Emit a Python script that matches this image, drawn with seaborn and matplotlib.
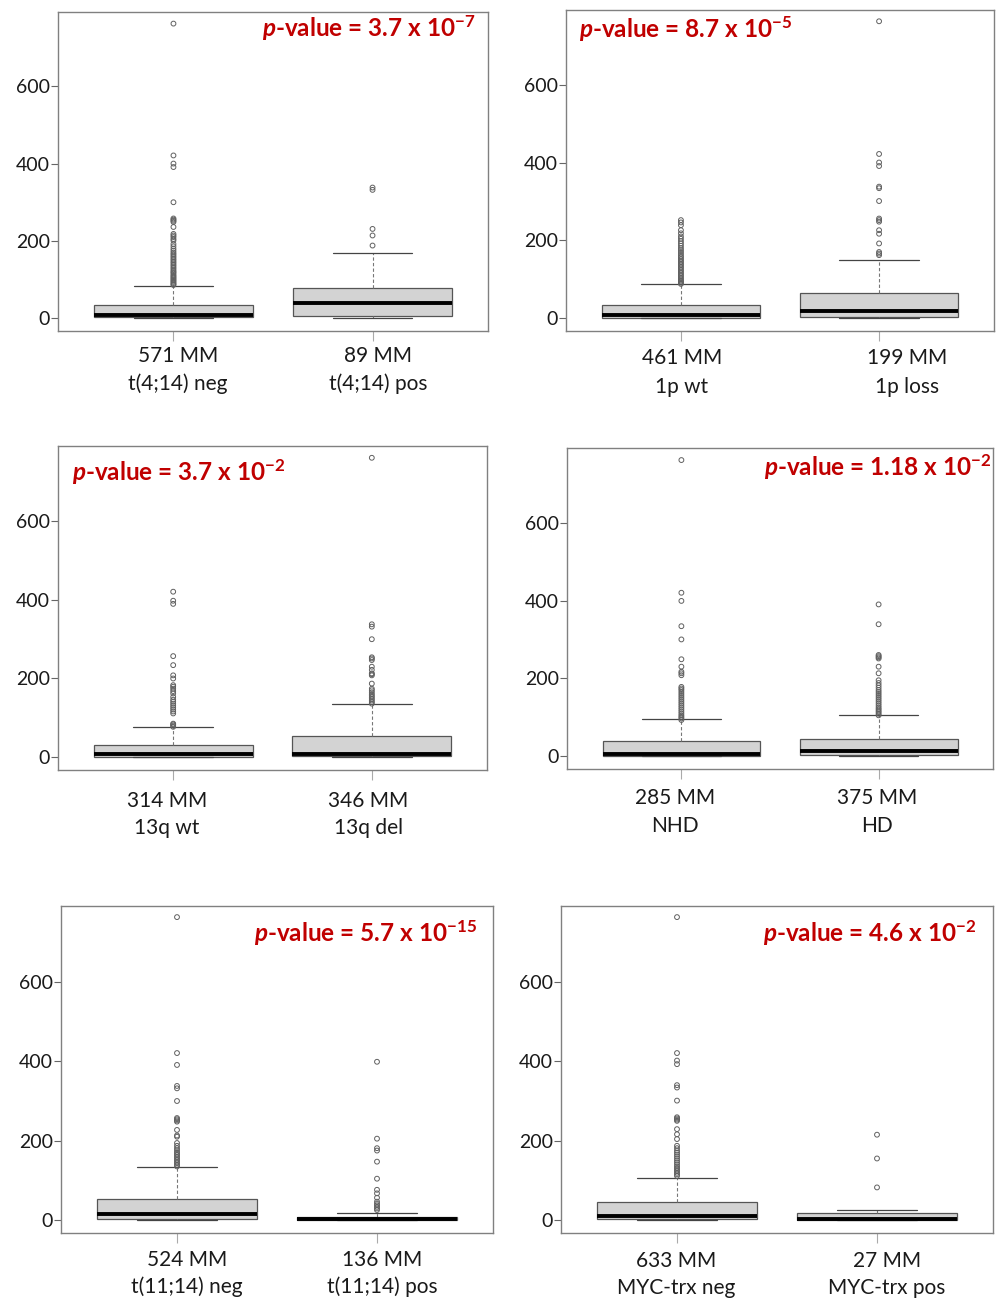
import matplotlib
matplotlib.use("Agg")
import matplotlib.pyplot as plt
import pandas as pd
import seaborn as sns

# ---- data ----
COUNTS = [[571, 89], [461, 199], [314, 346], [285, 375], [524, 136], [633, 27]]
GROUPS = [["t(4;14) neg", "t(4;14) pos"], ["1p wt", "1p loss"], ["13q wt", "13q del"],
          ["NHD", "HD"], ["t(11;14) neg", "t(11;14) pos"], ["MYC-trx neg", "MYC-trx pos"]]
P_MANT = ["3.7", "8.7", "3.7", "1.18", "5.7", "4.6"]
P_EXP = ["-7", "-5", "-2", "-2", "-15", "-2"]

Q1 = [[2.6, 6], [0, 2.6], [0, 1.7], [0, 1.7], [3.4, 0], [1.7, 0]]
MED = [[8.6, 40.6], [7, 18], [8.5, 8.5], [5, 12], [14, 1.7], [10, 1.7]]
Q3 = [[34.5, 78.6], [35, 65], [31.5, 53.6], [39.4, 43], [54, 8.4], [45.5, 17]]
WHI_LO = [[0, 0], [0, 0], [0, 0], [0, 0], [0, 0], [0, 0]]
WHI_HI = [[84.6, 169], [87, 150], [76.6, 134.5], [96, 104.6], [133, 18.5], [105, 25]]

FLIERS = [
    [[86, 88, 91, 94, 97, 100, 103, 106, 109, 112, 116, 119, 122, 126, 130, 134, 138, 142,
      146, 150, 154, 158, 162, 166, 170, 175, 180, 186, 192, 201, 205, 210, 214, 218, 236,
      249, 252, 255, 258, 300, 391, 400, 421, 762],
     [188, 214, 231, 332, 338]],
    [[88, 91, 94, 97, 100, 104, 108, 112, 116, 120, 124, 128, 132, 136, 140, 144, 148, 152,
      156, 160, 165, 170, 175, 180, 186, 192, 198, 204, 210, 218, 226, 239, 246, 252],
     [162, 166, 170, 192, 217, 226, 248, 252, 256, 301, 334, 338, 391, 400, 422, 763]],
    [[77, 80, 83, 85, 111, 116, 121, 126, 131, 136, 141, 146, 153, 162, 168, 174, 179, 183,
      200, 208, 234, 257, 390, 398, 421],
     [136, 140, 144, 148, 152, 156, 160, 165, 170, 174, 187, 208, 211, 213, 222, 230, 247,
      251, 254, 300, 332, 338, 762]],
    [[93, 97, 101, 105, 110, 115, 120, 125, 130, 135, 140, 145, 150, 155, 160, 165, 170, 174,
      178, 208, 213, 217, 230, 249, 300, 334, 399, 420, 761],
     [105, 109, 113, 117, 121, 125, 130, 135, 140, 145, 150, 155, 160, 165, 170, 176, 182,
      188, 195, 213, 230, 251, 254, 257, 260, 339, 390]],
    [[135, 139, 143, 147, 151, 155, 159, 163, 167, 171, 176, 181, 187, 194, 210, 213, 227,
      248, 251, 254, 257, 300, 332, 338, 391, 421, 764],
     [25, 29, 33, 37, 41, 46, 56, 67, 76, 104, 147, 175, 181, 205, 399]],
    [[111, 115, 119, 123, 127, 131, 135, 140, 145, 150, 155, 160, 165, 170, 175, 181, 187,
      204, 216, 229, 250, 253, 256, 259, 301, 334, 340, 393, 402, 421, 764],
     [82, 155, 215]],
]

# ---- layout (pixels in a 1001 x 1299 canvas) ----
W, H = 1001, 1299
AX_PX = [(58, 12, 488, 331), (566, 10, 994, 331), (58, 446, 487, 770),
         (567, 448, 993, 769), (61, 906, 493, 1233), (561, 906, 993, 1233)]
# p-value anchor: (x in axes frac, y in axes frac, ha)
P_POS = [(0.97, 0.95, "right"), (0.03, 0.94, "left"), (0.033, 0.92, "left"),
         (0.997, 0.94, "right"), (0.963, 0.917, "right"), (0.962, 0.917, "right")]
# x-label centres in axes frac, and the two line offsets below the axes (px)
LBL_X = [(0.279, 0.744), (0.271, 0.797), (0.254, 0.723), (0.254, 0.728), (0.291, 0.743), (0.266, 0.755)]
LBL_DY = [(25, 53), (27, 56), (31, 58), (29, 57), (27, 54), (28, 55)]

sns.set_style("white")
plt.rcParams["font.family"] = ["Lato", "DejaVu Sans"]
plt.rcParams["mathtext.fontset"] = "custom"
plt.rcParams["mathtext.rm"] = "Lato:bold"
plt.rcParams["mathtext.it"] = "Lato:bold:italic"
plt.rcParams["mathtext.bf"] = "Lato:bold"

fig = plt.figure(figsize=(W / 100, H / 100), dpi=100)

for i, (x0, y0, x1, y1) in enumerate(AX_PX):
    ax = fig.add_axes([x0 / W, 1 - y1 / H, (x1 - x0) / W, (y1 - y0) / H])
    stats = [dict(med=MED[i][j], q1=Q1[i][j], q3=Q3[i][j],
                  whislo=WHI_LO[i][j], whishi=WHI_HI[i][j], fliers=[]) for j in range(2)]
    ax.bxp(stats, positions=[1, 2], widths=0.8, capwidths=0.4, patch_artist=True,
           showfliers=False,
           boxprops=dict(facecolor="#D3D3D3", edgecolor="#555555", linewidth=0.9),
           medianprops=dict(color="black", linewidth=2.8, solid_capstyle="butt"),
           whiskerprops=dict(color="#777777", linestyle=(0, (3, 2)), linewidth=0.8),
           capprops=dict(color="#444444", linewidth=0.9))

    df = pd.DataFrame({
        "pos": [1] * len(FLIERS[i][0]) + [2] * len(FLIERS[i][1]),
        "val": FLIERS[i][0] + FLIERS[i][1],
    })
    sns.scatterplot(data=df, x="pos", y="val", ax=ax, marker="o", s=12,
                    facecolor="none", edgecolor="#606060", linewidth=0.7, zorder=3)

    ax.set_xlim(0.42, 2.58)
    ax.set_ylim(-33, 792)
    ax.set_yticks([0, 200, 400, 600])
    ax.set_xticks([1, 2])
    ax.set_xticklabels([])
    ax.set_xlabel("")
    ax.set_ylabel("")
    ax.tick_params(axis="y", left=True, length=5, width=0.8, color="#666666",
                   labelsize=14, pad=1, labelcolor="#1a1a1a")
    ax.tick_params(axis="x", bottom=True, length=7, width=0.8, color="#aaaaaa")
    for sp in ax.spines.values():
        sp.set_color("#808080")
        sp.set_linewidth(1.0)

    px, py, ha = P_POS[i]
    ax.text(px, py, r"$\mathit{p}$-value = " + P_MANT[i] + r" x 10$^{\mathrm{" + P_EXP[i] + "}}$",
            transform=ax.transAxes, ha=ha, va="center", color="#C00000",
            fontsize=17.5, fontweight="bold")

    for j in range(2):
        fx = (x0 + LBL_X[i][j] * (x1 - x0)) / W
        fig.text(fx, 1 - (y1 + LBL_DY[i][0]) / H, f"{COUNTS[i][j]} MM",
                 ha="center", va="center", fontsize=15, color="#1a1a1a")
        fig.text(fx, 1 - (y1 + LBL_DY[i][1]) / H, GROUPS[i][j],
                 ha="center", va="center", fontsize=15, color="#1a1a1a")

fig.savefig("out.png", dpi=100)
